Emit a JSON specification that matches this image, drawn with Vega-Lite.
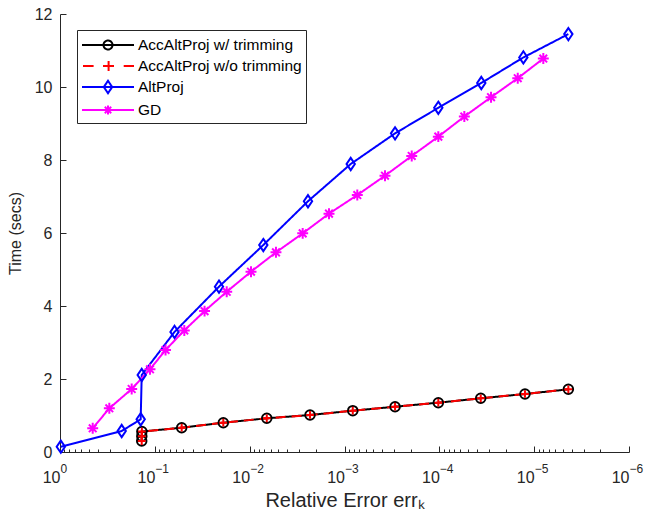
{
  "$schema": "https://vega.github.io/schema/vega-lite/v6.json",
  "autosize": {"type": "none"},
  "width": 569,
  "height": 438,
  "padding": {"left": 60, "top": 14, "right": 16, "bottom": 67},
  "background": "white",
  "config": {"view": {"stroke": null}, "font": "Liberation Sans"},
  "data": {"values": [
    {"s": "AccAltProj w/ trimming", "i": 1, "err": 0.1375, "t": 0.30},
    {"s": "AccAltProj w/ trimming", "i": 2, "err": 0.1372, "t": 0.43},
    {"s": "AccAltProj w/ trimming", "i": 3, "err": 0.1370, "t": 0.56},
    {"s": "AccAltProj w/ trimming", "i": 4, "err": 0.0521, "t": 0.666},
    {"s": "AccAltProj w/ trimming", "i": 5, "err": 0.01897, "t": 0.803},
    {"s": "AccAltProj w/ trimming", "i": 6, "err": 0.0066, "t": 0.923},
    {"s": "AccAltProj w/ trimming", "i": 7, "err": 0.00231, "t": 1.014},
    {"s": "AccAltProj w/ trimming", "i": 8, "err": 0.000818, "t": 1.132},
    {"s": "AccAltProj w/ trimming", "i": 9, "err": 0.000293, "t": 1.241},
    {"s": "AccAltProj w/ trimming", "i": 10, "err": 0.0001025, "t": 1.351},
    {"s": "AccAltProj w/ trimming", "i": 11, "err": 0.0000366, "t": 1.471},
    {"s": "AccAltProj w/ trimming", "i": 12, "err": 0.0000125, "t": 1.589},
    {"s": "AccAltProj w/ trimming", "i": 13, "err": 0.00000436, "t": 1.718},
    {"s": "AccAltProj w/o trimming", "i": 1, "err": 0.1375, "t": 0.30},
    {"s": "AccAltProj w/o trimming", "i": 2, "err": 0.1372, "t": 0.43},
    {"s": "AccAltProj w/o trimming", "i": 3, "err": 0.1370, "t": 0.56},
    {"s": "AccAltProj w/o trimming", "i": 4, "err": 0.0521, "t": 0.666},
    {"s": "AccAltProj w/o trimming", "i": 5, "err": 0.01897, "t": 0.803},
    {"s": "AccAltProj w/o trimming", "i": 6, "err": 0.0066, "t": 0.923},
    {"s": "AccAltProj w/o trimming", "i": 7, "err": 0.00231, "t": 1.014},
    {"s": "AccAltProj w/o trimming", "i": 8, "err": 0.000818, "t": 1.132},
    {"s": "AccAltProj w/o trimming", "i": 9, "err": 0.000293, "t": 1.241},
    {"s": "AccAltProj w/o trimming", "i": 10, "err": 0.0001025, "t": 1.351},
    {"s": "AccAltProj w/o trimming", "i": 11, "err": 0.0000366, "t": 1.471},
    {"s": "AccAltProj w/o trimming", "i": 12, "err": 0.0000125, "t": 1.589},
    {"s": "AccAltProj w/o trimming", "i": 13, "err": 0.00000436, "t": 1.718},
    {"s": "AltProj", "i": 1, "err": 0.98, "t": 0.145},
    {"s": "AltProj", "i": 2, "err": 0.2236, "t": 0.575},
    {"s": "AltProj", "i": 3, "err": 0.141, "t": 0.896},
    {"s": "AltProj", "i": 4, "err": 0.1375, "t": 2.11},
    {"s": "AltProj", "i": 5, "err": 0.0620, "t": 3.29},
    {"s": "AltProj", "i": 6, "err": 0.02105, "t": 4.53},
    {"s": "AltProj", "i": 7, "err": 0.00718, "t": 5.67},
    {"s": "AltProj", "i": 8, "err": 0.002427, "t": 6.87},
    {"s": "AltProj", "i": 9, "err": 0.00086, "t": 7.89},
    {"s": "AltProj", "i": 10, "err": 0.000293, "t": 8.73},
    {"s": "AltProj", "i": 11, "err": 0.0001025, "t": 9.43},
    {"s": "AltProj", "i": 12, "err": 0.0000361, "t": 10.11},
    {"s": "AltProj", "i": 13, "err": 0.000013, "t": 10.81},
    {"s": "AltProj", "i": 14, "err": 0.00000436, "t": 11.45},
    {"s": "GD", "i": 1, "err": 0.452, "t": 0.649},
    {"s": "GD", "i": 2, "err": 0.302, "t": 1.197},
    {"s": "GD", "i": 3, "err": 0.1754, "t": 1.726},
    {"s": "GD", "i": 4, "err": 0.1125, "t": 2.266},
    {"s": "GD", "i": 5, "err": 0.0771, "t": 2.795},
    {"s": "GD", "i": 6, "err": 0.0489, "t": 3.33},
    {"s": "GD", "i": 7, "err": 0.0299, "t": 3.86},
    {"s": "GD", "i": 8, "err": 0.01746, "t": 4.39},
    {"s": "GD", "i": 9, "err": 0.00968, "t": 4.94},
    {"s": "GD", "i": 10, "err": 0.00528, "t": 5.47},
    {"s": "GD", "i": 11, "err": 0.00276, "t": 5.99},
    {"s": "GD", "i": 12, "err": 0.001457, "t": 6.53},
    {"s": "GD", "i": 13, "err": 0.000733, "t": 7.04},
    {"s": "GD", "i": 14, "err": 0.000374, "t": 7.57},
    {"s": "GD", "i": 15, "err": 0.0001955, "t": 8.11},
    {"s": "GD", "i": 16, "err": 0.0001025, "t": 8.64},
    {"s": "GD", "i": 17, "err": 0.0000545, "t": 9.19},
    {"s": "GD", "i": 18, "err": 0.0000285, "t": 9.72},
    {"s": "GD", "i": 19, "err": 0.0000149, "t": 10.24},
    {"s": "GD", "i": 20, "err": 0.00000801, "t": 10.78}
  ]},
  "encoding": {
    "y": {
      "field": "t", "type": "quantitative",
      "scale": {"domain": [0, 12], "nice": false, "zero": false},
      "axis": {
        "title": "Time (secs)",
        "titleFont": "Liberation Sans", "titleFontSize": 16, "titleFontWeight": "normal", "titleColor": "#262626", "titlePadding": 11,
        "values": [0, 2, 4, 6, 8, 10, 12],
        "tickSize": -6, "tickColor": "#262626", "domainColor": "#262626", "grid": false,
        "labelFont": "Liberation Sans", "labelFontSize": 16, "labelColor": "#262626", "labelPadding": 14
      }
    }
  },
  "layer": [
    {
      "mark": {"type": "line", "strokeWidth": 2},
      "encoding": {
        "x": {
          "field": "err", "type": "quantitative",
          "scale": {"type": "log", "domain": [0.000001, 1], "reverse": true, "nice": false},
          "axis": {
            "title": "Relative Error  errₖ",
            "titleFont": "Liberation Sans", "titleFontSize": 20, "titleFontWeight": "normal", "titleColor": "#262626", "titlePadding": 2,
            "values": [1, 0.9, 0.8, 0.7, 0.6, 0.5, 0.4, 0.3, 0.2, 0.1, 0.09, 0.08, 0.07, 0.06, 0.05, 0.04, 0.03, 0.02, 0.01, 0.009, 0.008, 0.007, 0.006, 0.005, 0.004, 0.003, 0.002, 0.001, 0.0009, 0.0008, 0.0007, 0.0006, 0.0005, 0.0004, 0.0003, 0.0002, 0.0001, 0.00009, 0.00008, 0.00007, 0.00006, 0.00005, 0.00004, 0.00003, 0.00002, 0.00001, 0.000009, 0.000008, 0.000007, 0.000006, 0.000005, 0.000004, 0.000003, 0.000002, 0.000001],
            "labelExpr": "abs(log(datum.value)/LN10 - round(log(datum.value)/LN10)) < 0.001 ? '10' : ''",
            "tickSize": {"condition": {"test": "abs(log(datum.value)/LN10 - round(log(datum.value)/LN10)) < 0.001", "value": -6}, "value": -3},
            "tickColor": "#262626", "domainColor": "#262626", "grid": false,
            "labelFont": "Liberation Sans", "labelFontSize": 16, "labelColor": "#262626", "labelAlign": "right", "labelDx": 1,
            "labelOverlap": false, "labelFlush": false, "labelBound": false, "labelPadding": 23
          }
        },
        "order": {"field": "i", "type": "quantitative"},
        "strokeDash": {
          "field": "s", "type": "nominal", "legend": null,
          "scale": {"domain": ["AccAltProj w/o trimming", "AccAltProj w/ trimming", "AltProj", "GD"], "range": [[10, 6], [1, 0], [1, 0], [1, 0]]}
        },
        "color": {
          "field": "s", "type": "nominal",
          "scale": {"domain": ["AccAltProj w/ trimming", "AccAltProj w/o trimming", "AltProj", "GD"], "range": ["#000000", "#ff0000", "#0000ff", "#ff00ff"]},
          "legend": {
            "orient": "none", "legendX": 17, "legendY": 16, "title": null,
            "symbolSize": 400, "labelOffset": 35, "padding": 4, "rowPadding": 1,
            "strokeColor": "#262626", "fillColor": "white",
            "labelFont": "Liberation Sans", "labelFontSize": 15.5, "labelColor": "#000000", "labelLimit": 400,
            "symbolStrokeWidth": 2,
            "encode": {"symbols": {"update": {
              "shape": {"signal": "datum.value == 'AccAltProj w/ trimming' ? 'M-1,0H4.2M2.05,0A0.45,0.45 0 1,1 1.15,0A0.45,0.45 0 1,1 2.05,0' : datum.value == 'AccAltProj w/o trimming' ? 'M-0.9,0H0.16M1.1,0H2.2M1.66,-0.5V0.5M3.17,0H4.2' : datum.value == 'AltProj' ? 'M-1,0H4.2M1.6,-0.62L2.02,0L1.6,0.62L1.18,0Z' : 'M-1,0H4.2M1.6,-0.45V0.45M1.28,-0.32L1.92,0.32M1.28,0.32L1.92,-0.32'"},
              "fill": {"value": "transparent"},
              "strokeDash": {"value": [1, 0]},
              "strokeWidth": {"value": 2},
              "opacity": {"value": 1}
            }}}
          }
        }
      }
    },
    {
      "mark": {"type": "point", "filled": false, "strokeWidth": 2, "opacity": 1},
      "encoding": {
        "x": {
          "field": "err", "type": "quantitative",
          "axis": {
            "orient": "bottom", "title": null, "domain": false, "ticks": false, "grid": false,
            "values": [1, 0.1, 0.01, 0.001, 0.0001, 0.00001, 0.000001],
            "labelExpr": "round(log(datum.value)/LN10) == 0 ? '0' : '−' + (-round(log(datum.value)/LN10))",
            "labelFont": "Liberation Sans", "labelFontSize": 12, "labelColor": "#262626", "labelAlign": "left", "labelDx": 2,
            "labelOverlap": false, "labelFlush": false, "labelBound": false, "labelPadding": 11
          }
        },
        "color": {"field": "s", "type": "nominal", "legend": null},
        "shape": {
          "field": "s", "type": "nominal", "legend": null,
          "scale": {"domain": ["GD", "AltProj", "AccAltProj w/o trimming", "AccAltProj w/ trimming"], "range": ["M-1,0H1M0,-1V1M-0.7,-0.7L0.7,0.7M-0.7,0.7L0.7,-0.7", "M0,-1L0.68,0L0,1L-0.68,0Z", "M-1,0H1M0,-1V1", "circle"]}
        },
        "size": {
          "field": "s", "type": "nominal", "legend": null,
          "scale": {"domain": ["AltProj", "GD", "AccAltProj w/ trimming", "AccAltProj w/o trimming"], "range": [150, 60, 90, 80]}
        }
      }
    }
  ],
  "resolve": {"axis": {"x": "independent"}}
}
